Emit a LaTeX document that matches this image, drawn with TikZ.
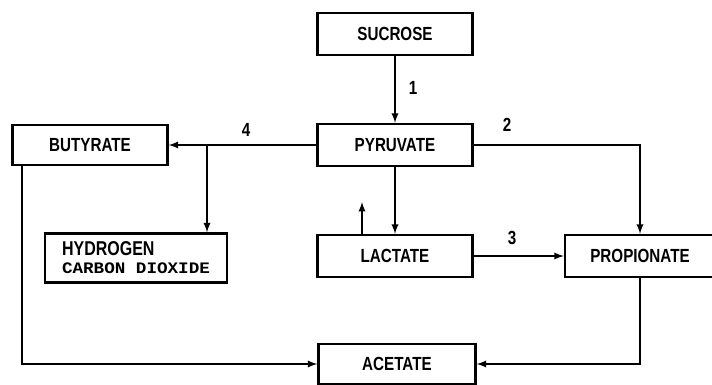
\documentclass[tikz,border=0pt]{standalone}
\usepackage{fontspec}
\setmainfont{Liberation Sans}[FakeStretch=0.8]
\newfontfamily\monofonte{Liberation Mono}[FakeStretch=1.1]
\usetikzlibrary{arrows}

\tikzset{
  caixa/.style={draw,line width=2.4pt,minimum width=155pt,minimum height=42pt,
    font=\fontsize{19}{21}\selectfont\bfseries,inner sep=0pt},
  rotulo/.style={font=\fontsize{19}{21}\selectfont\bfseries,inner sep=1pt},
  seta/.style={->,line width=2.2pt}
}

\begin{document}
\begin{tikzpicture}[>=latex,x=1pt,y=-1pt]
	\useasboundingbox (0,0) rectangle (712,385);
	% caixas
	\node[caixa] (sucrose) at (395,34) {SUCROSE};
	\node[caixa] (pyruvate) at (395,145) {PYRUVATE};
	\node[caixa,minimum height=40pt] (butyrate) at (90,145) {BUTYRATE};
	\node[caixa,minimum width=182pt,minimum height=49pt,align=left] (hydrogen) at (136,258)
	  {{\fontsize{20}{22}\selectfont HYDROGEN}\\[-3pt]{\monofonte\fontsize{16}{18}\selectfont CARBON DIOXIDE}};
	\node[caixa] (lactate) at (395,256) {LACTATE};
	\node[caixa,minimum width=150pt] (propionate) at (640,256) {PROPIONATE};
	\node[caixa,minimum width=157pt,minimum height=40pt] (acetate) at (397,364) {ACETATE};
	% pontos livres
	\coordinate (ramo) at (207,145);
	\coordinate (sobe) at (362,202);
	% setas
	\draw[seta] (sucrose.south) -- (sucrose.south |- pyruvate.north);
	\draw[seta] (pyruvate.west) -- (butyrate.east);
	\draw[seta] (ramo) -- (ramo |- hydrogen.north);
	\draw[seta] (pyruvate.east) -| (propionate.north);
	\draw[seta] (pyruvate.south) -- (lactate.north);
	\draw[seta] (lactate.north -| sobe) -- (sobe);
	\draw[seta] (lactate.east) -- (propionate.west);
	\draw[seta] (propionate.south) |- (acetate.east);
	\draw[seta] ([xshift=11pt]butyrate.south west) |- (acetate.west);
	% numeros
	\node[rotulo] (n1) at (413,88) {1};
	\node[rotulo] (n2) at (507,125) {2};
	\node[rotulo] (n3) at (512,238) {3};
	\node[rotulo] (n4) at (246,130) {4};
\end{tikzpicture}
\end{document}
